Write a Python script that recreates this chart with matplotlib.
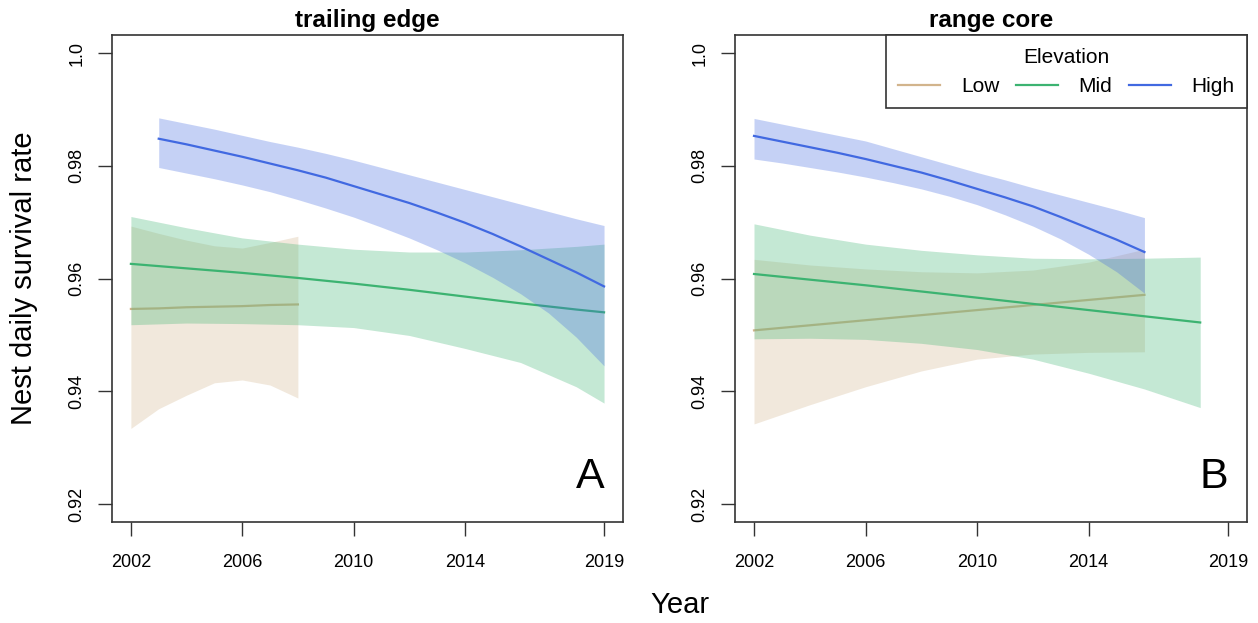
import numpy as np
import matplotlib
matplotlib.use("Agg")
import matplotlib.pyplot as plt

plt.rcParams['font.family'] = ['Liberation Sans', 'DejaVu Sans']

# ---- data ----
# panel A: trailing edge
a_low_years = [2002, 2003, 2004, 2005, 2006, 2007, 2008]
a_low_fit = [0.9546, 0.9547, 0.9549, 0.9550, 0.9551, 0.9553, 0.9554]
a_low_upper = [0.9693, 0.9680, 0.9668, 0.9658, 0.9654, 0.9664, 0.9675]
a_low_lower = [0.9334, 0.9369, 0.9393, 0.9415, 0.9420, 0.9411, 0.9388]

a_mid_years = [2002, 2004, 2006, 2008, 2010, 2012, 2014, 2016, 2018, 2019]
a_mid_fit = [0.9626, 0.9618, 0.9610, 0.9601, 0.9591, 0.9580, 0.9568, 0.9556, 0.9545, 0.9540]
a_mid_upper = [0.9710, 0.9690, 0.9672, 0.9661, 0.9652, 0.9647, 0.9647, 0.9651, 0.9657, 0.9661]
a_mid_lower = [0.9518, 0.9521, 0.9520, 0.9518, 0.9513, 0.9499, 0.9476, 0.9451, 0.9408, 0.9379]

a_high_years = list(range(2003, 2020))
a_high_fit = [0.9848, 0.9838, 0.9827, 0.9816, 0.9804, 0.9792, 0.9779, 0.9764, 0.9749,
              0.9734, 0.9717, 0.9699, 0.9679, 0.9657, 0.9634, 0.9611, 0.9586]
a_high_upper = [0.9885, 0.9875, 0.9865, 0.9854, 0.9843, 0.9833, 0.9822, 0.9810, 0.9797,
                0.9784, 0.9771, 0.9758, 0.9745, 0.9732, 0.9719, 0.9706, 0.9694]
a_high_lower = [0.9797, 0.9787, 0.9777, 0.9766, 0.9754, 0.9740, 0.9725, 0.9709, 0.9691,
                0.9672, 0.9651, 0.9628, 0.9602, 0.9573, 0.9539, 0.9496, 0.9445]

# panel B: range core
b_low_years = [2002, 2004, 2006, 2008, 2010, 2012, 2014, 2016]
b_low_fit = [0.9508, 0.9517, 0.9526, 0.9535, 0.9544, 0.9553, 0.9562, 0.9571]
b_low_upper = [0.9634, 0.9624, 0.9617, 0.9612, 0.9610, 0.9615, 0.9629, 0.9652]
b_low_lower = [0.9342, 0.9376, 0.9408, 0.9436, 0.9457, 0.9466, 0.9469, 0.9470]

b_mid_years = [2002, 2004, 2006, 2008, 2010, 2012, 2014, 2016, 2018]
b_mid_fit = [0.9608, 0.9598, 0.9588, 0.9577, 0.9566, 0.9555, 0.9544, 0.9533, 0.9522]
b_mid_upper = [0.9697, 0.9677, 0.9661, 0.9650, 0.9642, 0.9636, 0.9635, 0.9636, 0.9638]
b_mid_lower = [0.9493, 0.9494, 0.9492, 0.9485, 0.9474, 0.9457, 0.9432, 0.9404, 0.9371]

b_high_years = list(range(2002, 2017))
b_high_fit = [0.9853, 0.9843, 0.9833, 0.9823, 0.9812, 0.9800, 0.9788, 0.9774, 0.9759,
              0.9744, 0.9728, 0.9709, 0.9689, 0.9669, 0.9647]
b_high_upper = [0.9884, 0.9874, 0.9864, 0.9854, 0.9844, 0.9830, 0.9816, 0.9802, 0.9788,
                0.9775, 0.9761, 0.9748, 0.9735, 0.9722, 0.9708]
b_high_lower = [0.9812, 0.9805, 0.9797, 0.9789, 0.9780, 0.9770, 0.9759, 0.9746, 0.9731,
                0.9713, 0.9693, 0.9670, 0.9643, 0.9612, 0.9574]

year_ticks = [2002, 2006, 2010, 2014, 2019]
rate_ticks = [0.92, 0.94, 0.96, 0.98, 1.0]
rate_tick_labels = ['0.92', '0.94', '0.96', '0.98', '1.0']

levels = ['Low', 'Mid', 'High']
colors = {'Low': '#D2B48C', 'Mid': '#3CB371', 'High': '#4169E1'}

panels = [
    ('trailing edge', 'A', {
        'Low': (a_low_years, a_low_fit, a_low_upper, a_low_lower),
        'Mid': (a_mid_years, a_mid_fit, a_mid_upper, a_mid_lower),
        'High': (a_high_years, a_high_fit, a_high_upper, a_high_lower),
    }),
    ('range core', 'B', {
        'Low': (b_low_years, b_low_fit, b_low_upper, b_low_lower),
        'Mid': (b_mid_years, b_mid_fit, b_mid_upper, b_mid_lower),
        'High': (b_high_years, b_high_fit, b_high_upper, b_high_lower),
    }),
]


def draw_panel(ax, title, letter, series, show_legend=False):
    # R-style layering: each band sits on top of the previous line
    z = 1
    handles = []
    for lev in levels:
        yrs, fit, up, lo = series[lev]
        ax.fill_between(yrs, lo, up, color=colors[lev], alpha=0.3,
                        linewidth=0, zorder=z)
        line, = ax.plot(yrs, fit, color=colors[lev], lw=1.6, zorder=z + 1,
                        label=lev)
        handles.append(line)
        z += 2

    ax.set_xlim(2001.32, 2019.68)
    ax.set_ylim(0.9168, 1.0032)
    ax.set_xticks(year_ticks)
    ax.set_yticks(rate_ticks)
    ax.set_yticklabels(rate_tick_labels)
    ax.tick_params(axis='both', direction='out', length=10, width=1,
                   labelsize=13, color='#333333')
    ax.tick_params(axis='x', pad=13)
    ax.tick_params(axis='y', pad=9, labelrotation=90)
    for lab in ax.get_yticklabels():
        lab.set_va('center')
    for sp in ax.spines.values():
        sp.set_linewidth(1.2)
        sp.set_color('#333333')

    ax.set_title(title, fontsize=17.5, fontweight='bold', pad=6)
    ax.text(0.935, 0.092, letter, transform=ax.transAxes, fontsize=31,
            ha='center', va='center')

    if show_legend:
        leg = ax.legend(handles=handles, loc='upper right', ncol=3,
                        title='Elevation', fontsize=15, title_fontsize=15,
                        frameon=True, fancybox=False, borderaxespad=0,
                        handlelength=2.0, handletextpad=1.0,
                        columnspacing=0.8, borderpad=0.6)
        leg.get_frame().set_edgecolor('#333333')
        leg.get_frame().set_linewidth(1.2)
        leg.get_frame().set_alpha(1)
        leg.set_zorder(20)


fig = plt.figure(figsize=(12.58, 6.23), dpi=100)
ax_a = fig.add_axes([0.0890, 0.1621, 0.4062, 0.7817])
ax_b = fig.add_axes([0.5843, 0.1621, 0.4070, 0.7817])

draw_panel(ax_a, panels[0][0], panels[0][1], panels[0][2])
draw_panel(ax_b, panels[1][0], panels[1][1], panels[1][2], show_legend=True)

fig.text(0.019, 0.553, 'Nest daily survival rate', rotation=90,
         fontsize=21, ha='center', va='center')
fig.text(0.5405, 0.029, 'Year', fontsize=21, ha='center', va='center')

fig.savefig('out.png', dpi=100)
